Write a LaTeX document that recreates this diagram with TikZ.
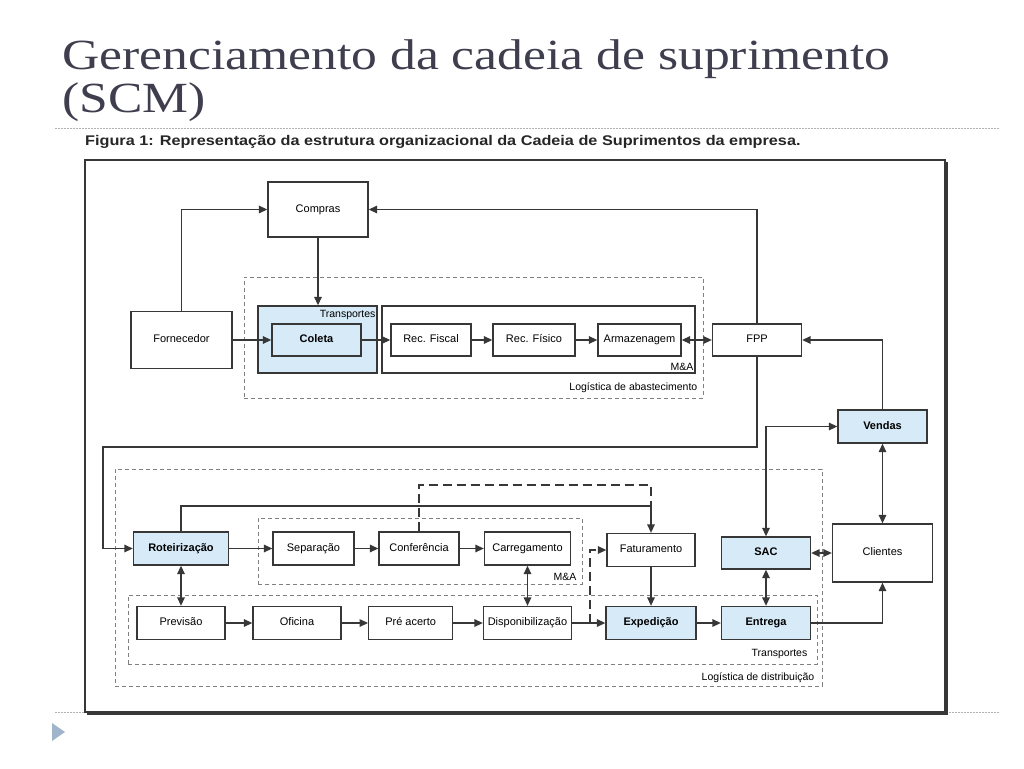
\documentclass[tikz,border=0pt]{standalone}
\usepackage{fontspec}
\setmainfont{Liberation Serif}
\setsansfont{Liberation Sans}
\usepackage{xcolor}
\usetikzlibrary{arrows.meta}

\definecolor{boxblue}{RGB}{214,234,248}
\definecolor{linegray}{RGB}{55,55,55}
\definecolor{titlegray}{RGB}{62,62,78}
\definecolor{bulletblue}{RGB}{160,180,204}

\tikzset{
  proc/.style={draw=linegray, line width=1.3pt, fill=white, minimum width=88pt,
    minimum height=33pt, inner sep=0pt, text height=8pt, text depth=2.5pt,
    font=\sffamily\fontsize{11}{13}\selectfont},
  hot/.style={proc, fill=boxblue, font=\sffamily\bfseries\fontsize{11}{13}\selectfont},
  group/.style={draw=gray, line width=1pt, dash pattern=on 4pt off 3pt, inner sep=0pt},
  solidgroup/.style={draw=linegray, line width=1.3pt, inner sep=0pt},
  flow/.style={draw=linegray, line width=1.4pt, -{Triangle[length=8.5pt,width=7.5pt]}},
  biflow/.style={flow, {Triangle[length=8.5pt,width=7.5pt]}-{Triangle[length=8.5pt,width=7.5pt]}},
  dashflow/.style={flow, dash pattern=on 9pt off 5pt},
  tag/.style={font=\sffamily\fontsize{10.5}{12}\selectfont, inner sep=0pt}
}

\begin{document}
\begin{tikzpicture}[x=1pt,y=-1pt]
    \useasboundingbox (0,0) rectangle (1024,768);
    \fill[white] (0,0) rectangle (1024,768);
    % titulo
    \node[anchor=base west, inner sep=0pt, text=titlegray, font=\fontsize{43}{44}\selectfont] (title1) at (62,70) {\scalebox{1.2}[1]{Gerenciamento da cadeia de suprimento}};
    \node[anchor=base west, inner sep=0pt, text=titlegray, font=\fontsize{43}{44}\selectfont] (title2) at (62,112) {\scalebox{1.2}[1]{(SCM)}};
    \draw[gray!60, line width=0.8pt, dash pattern=on 1.5pt off 1.5pt] (55,128) -- (1000,128);
    \draw[gray!60, line width=0.8pt, dash pattern=on 1.5pt off 1.5pt] (55,712) -- (1000,712);
    \fill[bulletblue] (52,723) -- (65,732) -- (52,741) -- cycle;
    \node[anchor=west, inner sep=0pt, font=\sffamily\bfseries\fontsize{14}{16}\selectfont, text=black!85] (caption) at (85,142) {\scalebox{1.16}[1]{Figura 1: Representação da estrutura organizacional da Cadeia de Suprimentos da empresa.}};
    % moldura da figura
    \draw[linegray, line width=2.5pt] (88,163) rectangle (947,714);
    \draw[linegray, fill=white, line width=1.5pt] (85,160) rectangle (945,712);

    % abastecimento
    \node[group, minimum width=459pt, minimum height=121pt] (abast) at (473.5,337.5) {};
    \node[solidgroup, fill=boxblue, minimum width=119pt, minimum height=67pt] (trans) at (317.5,339.5) {};
    \node[solidgroup, fill=white, minimum width=313pt, minimum height=67pt] (maA) at (538.5,339.5) {};
    \node[tag, anchor=north east] at ([shift={(-2,5)}]trans.north east) {Transportes};
    \node[tag, anchor=south east] at ([shift={(-2,-3)}]maA.south east) {M\&A};
    \node[tag, anchor=south east] at ([shift={(-6,-6)}]abast.south east) {Logística de abastecimento};

    \node[proc, minimum width=100pt, minimum height=55pt] (comp) at (318,209.5) {Compras};
    \node[proc, minimum width=101pt, minimum height=57pt] (forn) at (181.5,340) {Fornecedor};
    \node[hot, fill=boxblue, minimum width=89pt, minimum height=32pt] (coleta) at (316.5,340) {Coleta};
    \node[proc, minimum width=80pt, minimum height=32pt] (recfis) at (431,340) {Rec. Fiscal};
    \node[proc, minimum width=82pt, minimum height=32pt] (recfi) at (534,340) {Rec. Físico};
    \node[proc, minimum width=83pt, minimum height=32pt] (armaz) at (639.5,340) {Armazenagem};
    \node[proc, minimum width=89pt, minimum height=32pt] (fpp) at (757,340) {FPP};
    \node[hot, minimum width=89pt, minimum height=33pt] (vendas) at (882.5,426.5) {Vendas};

    % distribuicao
    \node[group, minimum width=707pt, minimum height=217pt] (distrib) at (468.5,577.5) {};
    \node[group, minimum width=324pt, minimum height=66pt] (maB) at (420,551) {};
    \node[group, minimum width=689pt, minimum height=69pt] (transB) at (472.5,629.5) {};
    \node[tag, anchor=south east] at ([shift={(-6,-4)}]maB.south east) {M\&A};
    \node[tag, anchor=south east] at ([shift={(-10,-6)}]transB.south east) {Transportes};
    \node[tag, anchor=south east] at ([shift={(-8,-4)}]distrib.south east) {Logística de distribuição};

    \node[hot, minimum width=95pt] (rot) at (181,548.5) {Roteirização};
    \node[proc, minimum width=81pt] (sep) at (313.5,548.5) {Separação};
    \node[proc, minimum width=80pt] (conf) at (419,548.5) {Conferência};
    \node[proc, minimum width=86pt] (carr) at (527.5,548.5) {Carregamento};
    \node[proc] (fat) at (651,550) {Faturamento};
    \node[hot, minimum width=89pt, minimum height=32pt] (sac) at (766,553) {SAC};
    \node[proc, minimum width=100pt, minimum height=58pt] (cli) at (882.5,553) {Clientes};
    \node[proc] (prev) at (181,623) {Previsão};
    \node[proc] (ofic) at (297,623) {Oficina};
    \node[proc, minimum width=84pt] (pre) at (410.7,623) {Pré acerto};
    \node[proc] (disp) at (527.5,623) {Disponibilização};
    \node[hot, minimum width=90pt] (exped) at (651,623) {Expedição};
    \node[hot, minimum width=89pt] (entr) at (766,623) {Entrega};

    % ligacoes de cima
    \draw[flow] (forn.north) |- (comp.west);
    \draw[flow] (comp.south) -- (comp.south |- trans.north);
    \draw[flow] (forn.east) -- (coleta.west);
    \draw[flow] (coleta.east) -- (recfis.west);
    \draw[flow] (recfis.east) -- (recfi.west);
    \draw[flow] (recfi.east) -- (armaz.west);
    \draw[biflow] (armaz.east) -- (fpp.west);
    \draw[flow] (fpp.north) |- (comp.east);
    \draw[flow] (vendas.north) |- (fpp.east);
    \coordinate (loopL) at (103,447);
    \draw[flow] (fpp.south) |- (loopL) |- (rot.west);

    % ligacoes de baixo
    \draw[biflow] (vendas.south) -- (cli.north);
    \draw[biflow] (sac.north) |- (vendas.west);
    \draw[biflow] (sac.east) -- (cli.west);
    \draw[biflow] (sac.south) -- (entr.north);
    \draw[flow] (entr.east) -| (cli.south);
    \draw[flow] (rot.east) -- (sep.west);
    \draw[flow] (sep.east) -- (conf.west);
    \draw[flow] (conf.east) -- (carr.west);
    \coordinate (topbus) at (181,506);
    \coordinate (dashtop) at (419,485);
    \draw[flow] (rot.north) -- (topbus) -| (fat.north);
    \draw[linegray, line width=1.4pt, dash pattern=on 9pt off 5pt] (conf.north) -- (dashtop) -| (fat.north |- topbus);
    \draw[biflow] (rot.south) -- (prev.north);
    \draw[biflow] (carr.south) -- (disp.north);
    \draw[flow] (prev.east) -- (ofic.west);
    \draw[flow] (ofic.east) -- (pre.west);
    \draw[flow] (pre.east) -- (disp.west);
    \draw[flow] (disp.east) -- (exped.west);
    \coordinate (split) at (590,623);
    \draw[dashflow] (split) |- (fat.west);
    \draw[flow] (fat.south) -- (exped.north);
    \draw[flow] (exped.east) -- (entr.west);
\end{tikzpicture}
\end{document}
